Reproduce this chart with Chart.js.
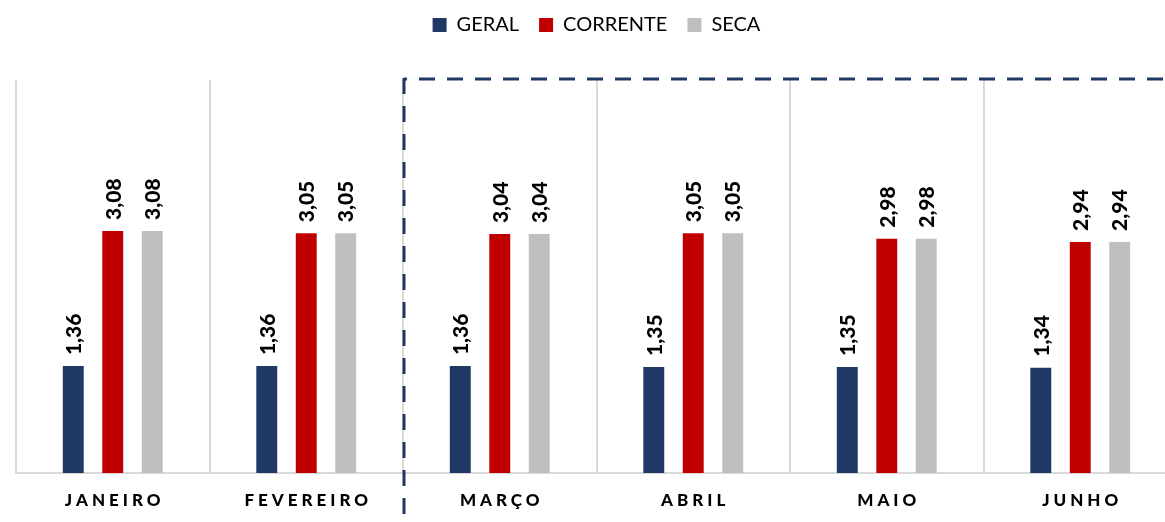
<!DOCTYPE html>
<html>
<head>
<meta charset="utf-8">
<script src="https://cdn.jsdelivr.net/npm/chart.js@4/dist/chart.umd.min.js"></script>
<style>
  html, body { margin: 0; padding: 0; background: #fff; overflow: hidden; }
  #wrap { position: relative; width: 1193px; height: 522px; }
</style>
</head>
<body>
<div id="wrap"><canvas id="c"></canvas></div>
<script>
const categories = ['JANEIRO', 'FEVEREIRO', 'MARÇO', 'ABRIL', 'MAIO', 'JUNHO'];
const seriesNames = ['GERAL', 'CORRENTE', 'SECA'];
const geral = [1.36, 1.36, 1.36, 1.35, 1.35, 1.34];
const corrente = [3.08, 3.05, 3.04, 3.05, 2.98, 2.94];
const seca = [3.08, 3.05, 3.04, 3.05, 2.98, 2.94];
const colors = ['#203864', '#C00000', '#BFBFBF'];
const FONT = 'Lato, "Open Sans", sans-serif';

const valueLabels = {
  id: 'valueLabels',
  afterDatasetsDraw(chart) {
    const ctx = chart.ctx;
    ctx.save();
    ctx.font = '900 21px ' + FONT;
    ctx.fillStyle = '#000';
    ctx.textAlign = 'left';
    ctx.textBaseline = 'middle';
    chart.data.datasets.forEach((ds, i) => {
      chart.getDatasetMeta(i).data.forEach((bar, j) => {
        const txt = ds.data[j].toFixed(2).replace('.', ',');
        ctx.save();
        ctx.translate(bar.x + 1, bar.y - 11);
        ctx.rotate(-Math.PI / 2);
        ctx.fillText(txt, 0, 0);
        ctx.restore();
      });
    });
    ctx.restore();
  }
};

const xLabels = {
  id: 'xLabels',
  afterDraw(chart) {
    const ctx = chart.ctx;
    const xs = chart.scales.x;
    ctx.save();
    ctx.font = '900 17px ' + FONT;
    ctx.fillStyle = '#000';
    ctx.textAlign = 'left';
    ctx.textBaseline = 'middle';
    const sp = 4;
    ctx.letterSpacing = sp + 'px';
    categories.forEach((c, i) => {
      const w = ctx.measureText(c).width - sp;
      const x = xs.getPixelForValue(i);
      ctx.fillText(c, x - w / 2, 501);
    });
    ctx.restore();
  }
};

const dashedFrame = {
  id: 'dashedFrame',
  afterDraw(chart) {
    const ctx = chart.ctx;
    const xs = chart.scales.x, ys = chart.scales.y;
    const x = (xs.getPixelForValue(1) + xs.getPixelForValue(2)) / 2 + 1;
    const y = ys.getPixelForValue(5) - 1;
    ctx.save();
    ctx.strokeStyle = '#203864';
    ctx.lineWidth = 3;
    ctx.setLineDash([16, 12]);
    ctx.beginPath();
    ctx.moveTo(x, y - 1);
    ctx.lineTo(x, chart.height);
    ctx.stroke();
    ctx.lineDashOffset = -15;
    ctx.beginPath();
    ctx.moveTo(x, y);
    ctx.lineTo(chart.width, y);
    ctx.stroke();
    ctx.restore();
  }
};

new Chart(document.getElementById('c'), {
  type: 'bar',
  data: {
    labels: categories,
    datasets: [
      { label: seriesNames[0], data: geral, backgroundColor: colors[0] },
      { label: seriesNames[1], data: corrente, backgroundColor: colors[1] },
      { label: seriesNames[2], data: seca, backgroundColor: colors[2] }
    ]
  },
  options: {
    responsive: true,
    maintainAspectRatio: false,
    animation: false,
    layout: { padding: { left: 16, right: 16, top: -5, bottom: 49 } },
    datasets: { bar: { categoryPercentage: 0.612, barPercentage: 0.53 } },
    plugins: {
      legend: {
        position: 'top',
        labels: {
          boxWidth: 14, boxHeight: 14, padding: 20,
          color: '#000',
          font: { family: FONT, size: 20 }
        }
      },
      tooltip: { enabled: false }
    },
    scales: {
      x: {
        grid: { display: true, color: '#D9D9D9', lineWidth: 2, drawTicks: false, offset: true },
        border: { display: true, color: '#D9D9D9', width: 2 },
        ticks: { display: false }
      },
      y: {
        display: false,
        min: 0, max: 5
      }
    }
  },
  plugins: [valueLabels, xLabels, dashedFrame, {
    id: 'legendSpace',
    beforeInit(chart) {
      const orig = chart.legend.fit;
      chart.legend.fit = function () { orig.call(this); this.height = 85; };
    }
  }]
});
</script>
</body>
</html>
